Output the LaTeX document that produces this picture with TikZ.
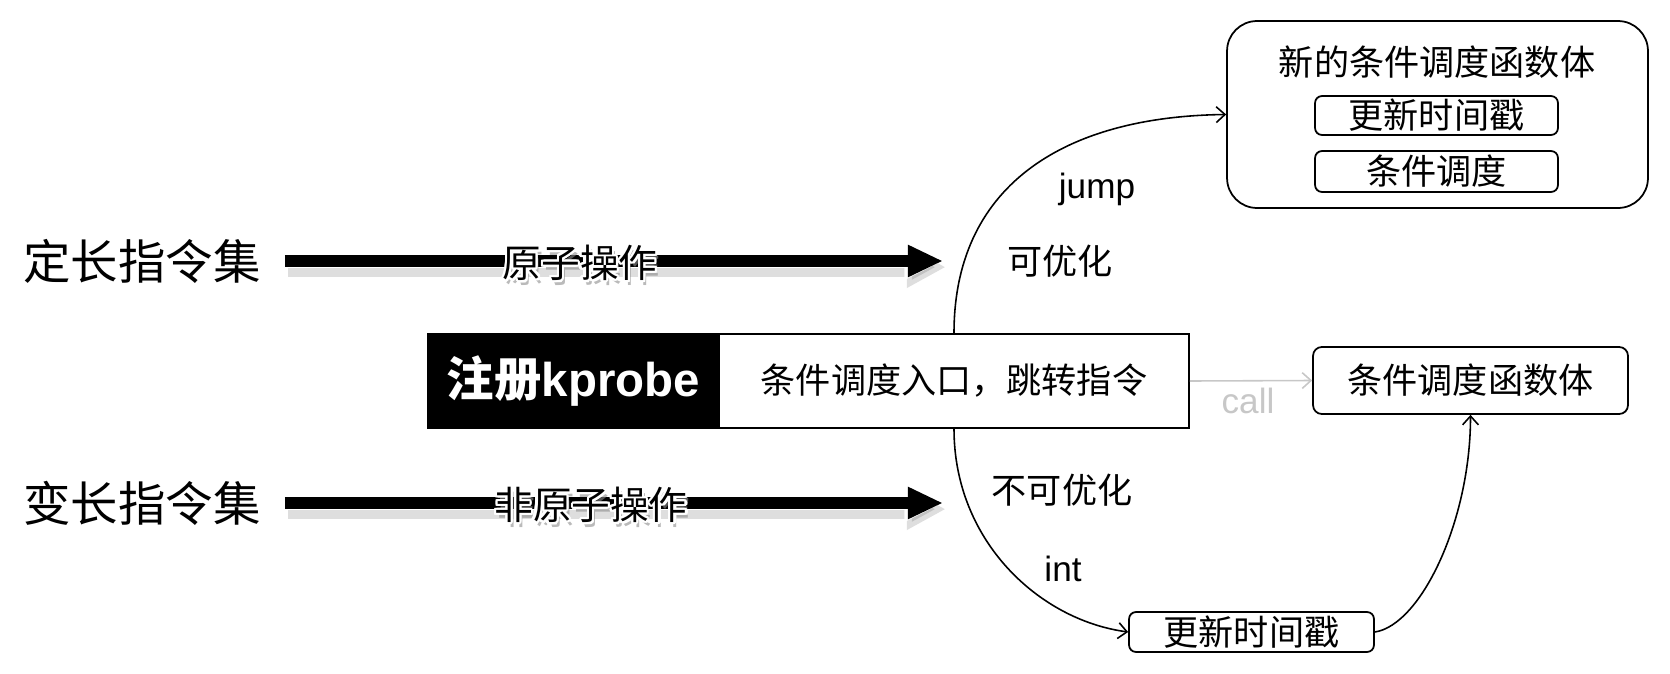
\documentclass[tikz,border=0pt]{standalone}
\usepackage{fontspec}
\setmainfont{Liberation Sans}
\newfontfamily\cjk{Noto Sans CJK SC}
\usepackage{contour}
\contourlength{1.3pt}
\usetikzlibrary{positioning, arrows.meta}

\tikzset{
  bigcjk/.style={font=\cjk\fontsize{27pt}{32pt}\selectfont, inner sep=0pt},
  opcjk/.style={font=\cjk\fontsize{22pt}{26pt}\selectfont, inner sep=0pt},
  smallcjk/.style={font=\cjk\fontsize{20pt}{24pt}\selectfont, inner sep=0pt},
  latinlbl/.style={font=\fontsize{20pt}{24pt}\selectfont, inner sep=0pt},
  fatarrow/.style={line width=6.8pt, -{Triangle[length=20pt, width=17pt]}},
  fatrim/.style={line width=8.4pt, white, -{Triangle[length=22pt, width=20pt]}},
  fatshadow/.style={line width=11pt, black, opacity=0.13, -{Triangle[length=22pt, width=22pt]}, transform canvas={shift={(1.5pt,-3.5pt)}}},
  opshadow/.style={opcjk, text=black!45, text opacity=0.6},
  fnbox/.style={draw, line width=1pt, rounded corners=4pt, inner sep=0pt},
  curve/.style={line width=0.9pt, -{Straight Barb[length=5pt, width=9pt]}},
}

\begin{document}
\begin{tikzpicture}[x=0.02cm, y=-0.02cm]
\useasboundingbox (0,0) rectangle (1670,673);

% instruction sets on the left
\node (fixed) [bigcjk] at (142,261) {定长指令集};
\node (var) [bigcjk] at (142,503) {变长指令集};
\coordinate (fixedEnd) at (943,261);
\coordinate (varEnd) at (943,503);
\foreach \src/\dst in {fixed/fixedEnd, var/varEnd} {
  \draw[fatshadow] ([xshift=0.48cm]\src.east) -- (\dst);
  \draw[fatrim] ([xshift=0.48cm]\src.east) -- (\dst);
  \draw[fatarrow] ([xshift=0.48cm]\src.east) -- (\dst);
}
\node (atomShadow) [opshadow] at (583,268) {原子操作};
\node (atom) [opcjk] at (580,264) {\contour{white}{原子操作}};
\node (nonatomShadow) [opshadow] at (594,510) {非原子操作};
\node (nonatom) [opcjk] at (591,506) {\contour{white}{非原子操作}};

% kprobe entry
\node (kp) [draw, fill=black, line width=1.1pt, minimum width=5.82cm, minimum height=1.88cm, text=white, font=\cjk\bfseries\fontsize{27pt}{32pt}\selectfont] at (573.5,381) {注册{\rmfamily\bfseries kprobe}};
\node (entry) [draw, line width=1.1pt, minimum width=9.4cm, minimum height=1.88cm, smallcjk] at (954,381) {条件调度入口，跳转指令};

% condition schedule functions
\node (callee) [fnbox, smallcjk, rounded corners=5pt, minimum width=6.3cm, minimum height=1.34cm] at (1470.5,380.5) {条件调度函数体};
\node (newfn) [fnbox, rounded corners=0.6cm, minimum width=8.42cm, minimum height=3.74cm] at (1437.5,114.5) {};
\node (newfnTitle) [smallcjk] at (1437,62) {新的条件调度函数体};
\node (ts1) [fnbox, smallcjk, minimum width=4.86cm, minimum height=0.78cm] at (1436.5,115.5) {更新时间戳};
\node (sched) [fnbox, smallcjk, minimum width=4.86cm, minimum height=0.82cm] at (1436.5,171.5) {条件调度};
\node (ts2) [fnbox, smallcjk, minimum width=4.9cm, minimum height=0.8cm] at (1251.5,632) {更新时间戳};

% paths
\draw[curve] (entry.north) .. controls +(0,-144) and +(-167,2) .. (newfn.west);
\draw[curve] (entry.south) .. controls +(0,112) and +(-89,-12) .. (ts2.west);
\draw[curve] (ts2.east) .. controls +(46,-7) and +(0,106) .. (callee.south);
\draw[curve, draw=black!22] (entry.east) -- (callee.west);

\node (jumpLbl) [latinlbl] at (1097,189) {jump};
\node (optLbl) [smallcjk] at (1060,261) {可优化};
\node (noOptLbl) [smallcjk] at (1062,490) {不可优化};
\node (intLbl) [latinlbl] at (1063,569) {int};
\node (callLbl) [latinlbl, text=black!22] at (1248,401) {call};
\end{tikzpicture}
\end{document}
